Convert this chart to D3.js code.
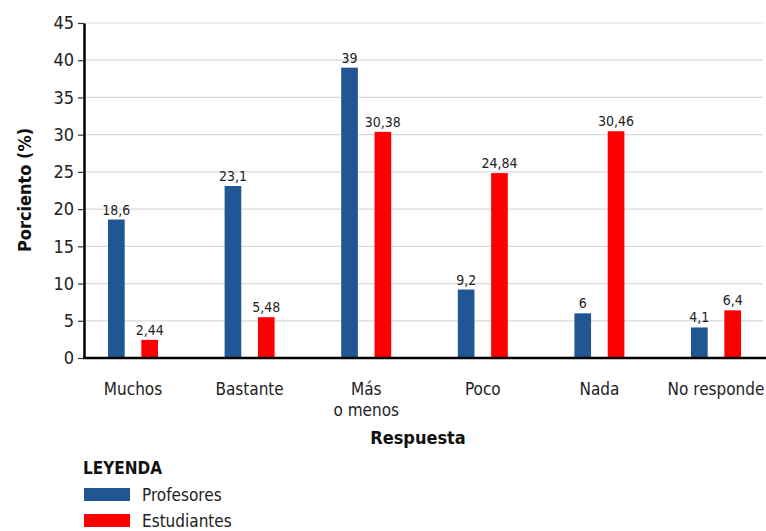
<!DOCTYPE html>
<html><head><meta charset="utf-8">
<script src="https://cdn.jsdelivr.net/npm/d3@7"></script>
<style>
body{margin:0;background:#fff;}
text{font-family:"DejaVu Sans Condensed","DejaVu Sans",sans-serif;font-stretch:condensed;}
</style></head>
<body><svg id="c" width="766" height="531"></svg>
<script>
const categories = ["Muchos","Bastante","Más\no menos","Poco","Nada","No responde"];
const series = ["Profesores","Estudiantes"];
const profesores = [18.6,23.1,39,9.2,6,4.1];
const estudiantes = [2.44,5.48,30.38,24.84,30.46,6.4];
const yTicks = [0,5,10,15,20,25,30,35,40,45];
const colors = ["#1f5693","#ff0000"];

const svg = d3.select("#c");
const x0 = 84, y0 = 358, yTop = 23;
const y = d3.scaleLinear().domain([0,45]).range([y0,yTop]);
const x = d3.scaleBand().domain(categories).range([74.7,774.3]).padding(0);
const xs = d3.scaleBand().domain(series).range([0,50]).paddingInner(0.5);
const fmt = v => String(v).replace(".",",");

// gridlines
svg.append("g").selectAll("line").data(yTicks.filter(d=>d>0)).join("line")
  .attr("x1",x0).attr("x2",763).attr("y1",d=>y(d)).attr("y2",d=>y(d))
  .attr("stroke","#d9d9d9").attr("stroke-width",1.2);

// bars
const data = categories.map((c,i)=>({c, vals:[profesores[i],estudiantes[i]]}));
const g = svg.append("g").selectAll("g").data(data).join("g")
  .attr("transform",d=>`translate(${x(d.c)+x.bandwidth()/2-25},0)`);
g.selectAll("rect").data(d=>d.vals.map((v,j)=>({v,s:series[j],j}))).join("rect")
  .attr("x",d=>xs(d.s)).attr("width",xs.bandwidth())
  .attr("y",d=>y(d.v)).attr("height",d=>y0-y(d.v))
  .attr("fill",d=>colors[d.j]);
g.selectAll("text").data(d=>d.vals.map((v,j)=>({v,s:series[j],j}))).join("text")
  .attr("x",d=>xs(d.s)+xs.bandwidth()/2).attr("y",d=>y(d.v)-5)
  .attr("text-anchor","middle").attr("font-size",14).attr("fill","#222")
  .text(d=>fmt(d.v));

// y axis
const ya = svg.append("g").attr("transform",`translate(${x0},0)`)
  .call(d3.axisLeft(y).tickValues(yTicks).tickSize(6).tickPadding(4).tickSizeOuter(0));
ya.select(".domain").attr("stroke","#000").attr("stroke-width",2.5);
ya.selectAll(".tick line").attr("stroke","#333").attr("stroke-width",1.2);
ya.selectAll(".tick text").attr("font-size",18).attr("fill","#222")
  .attr("font-family","'DejaVu Sans Condensed','DejaVu Sans',sans-serif");

// x axis line
svg.append("line").attr("x1",x0-1).attr("x2",766).attr("y1",y0).attr("y2",y0)
  .attr("stroke","#000").attr("stroke-width",2.5);

// x labels
svg.append("g").selectAll("text").data(categories).join("text")
  .attr("text-anchor","middle").attr("font-size",17).attr("fill","#222")
  .attr("transform",d=>`translate(${x(d)+x.bandwidth()/2},395)`)
  .selectAll("tspan").data(d=>d.split("\n")).join("tspan")
  .attr("x",0).attr("dy",(d,i)=>i?21:0).text(d=>d);

// axis titles
svg.append("text").attr("transform","translate(31,190) rotate(-90)")
  .attr("text-anchor","middle").attr("font-size",18).attr("font-weight","bold")
  .attr("fill","#111").text("Porciento (%)");
svg.append("text").attr("x",418).attr("y",444)
  .attr("text-anchor","middle").attr("font-size",18).attr("font-weight","bold")
  .attr("fill","#111").text("Respuesta");

// legend
svg.append("text").attr("x",83).attr("y",474).attr("font-size",17)
  .attr("font-weight","bold").attr("fill","#111").text("LEYENDA");
const lg = svg.append("g").selectAll("g").data(series).join("g")
  .attr("transform",(d,i)=>`translate(84,${488+i*26})`);
lg.append("rect").attr("width",46).attr("height",13).attr("fill",(d,i)=>colors[i]);
lg.append("text").attr("x",58).attr("y",13).attr("font-size",17).attr("fill","#222").text(d=>d);
</script></body></html>
